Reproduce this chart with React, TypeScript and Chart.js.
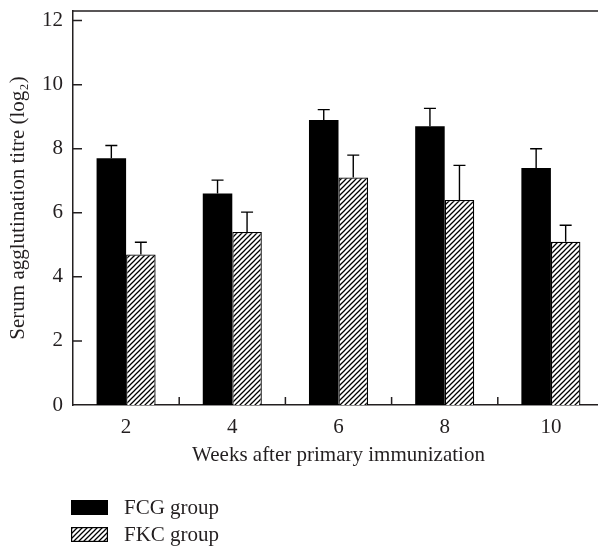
import React, { useEffect, useRef } from "react";
import { Chart, registerables } from "chart.js";

Chart.register(...registerables);

const weeks = ["2", "4", "6", "8", "10"];
const fcgValues = [7.7, 6.6, 8.9, 8.7, 7.4];
const fcgErrors = [0.4, 0.42, 0.32, 0.56, 0.6];
const fkcValues = [4.7, 5.4, 7.1, 6.4, 5.1];
const fkcErrors = [0.38, 0.62, 0.7, 1.08, 0.51];
const seriesNames = ["FCG group", "FKC group"];
const yTickValues = [0, 2, 4, 6, 8, 10, 12];

const FONT = "'Liberation Serif', 'Times New Roman', serif";
const INK = "#231f20";
const FS = 21;

function makeHatch(): CanvasPattern | string {
  const c = document.createElement("canvas");
  const s = 5;
  c.width = s;
  c.height = s;
  const g = c.getContext("2d");
  if (!g) return "#fff";
  g.fillStyle = "#fff";
  g.fillRect(0, 0, s, s);
  g.strokeStyle = "#000";
  g.lineWidth = 1.25;
  g.beginPath();
  g.moveTo(-1, s + 1);
  g.lineTo(s + 1, -1);
  g.moveTo(-1, 1);
  g.lineTo(1, -1);
  g.moveTo(s - 1, s + 1);
  g.lineTo(s + 1, s - 1);
  g.stroke();
  const p = g.createPattern(c, "repeat");
  return p || "#fff";
}

const errorBarsPlugin = {
  id: "errorBars",
  afterDatasetsDraw(chart: any) {
    const ctx = chart.ctx;
    const y = chart.scales.y;
    chart.data.datasets.forEach((ds: any, i: number) => {
      const meta = chart.getDatasetMeta(i);
      meta.data.forEach((bar: any, j: number) => {
        const v = ds.data[j];
        const e = ds.errors[j];
        const base = y.getPixelForValue(v);
        const top = y.getPixelForValue(v + e);
        ctx.save();
        ctx.strokeStyle = "#000";
        ctx.lineWidth = 1.4;
        ctx.beginPath();
        ctx.moveTo(bar.x, base);
        ctx.lineTo(bar.x, top);
        ctx.moveTo(bar.x - 6, top);
        ctx.lineTo(bar.x + 6, top);
        ctx.stroke();
        ctx.restore();
      });
    });
  },
};

const framePlugin = {
  id: "frameAndLegend",
  afterDraw(chart: any) {
    const { ctx, chartArea: a, scales } = chart;
    const x = scales.x;
    const y = scales.y;
    ctx.save();
    ctx.strokeStyle = INK;
    ctx.lineWidth = 1.5;
    ctx.beginPath();
    ctx.moveTo(a.left - 0.75, a.top);
    ctx.lineTo(a.right, a.top);
    y.ticks.forEach((t: any) => {
      if (t.value === 0) return;
      const py = y.getPixelForValue(t.value);
      ctx.moveTo(a.left, py);
      ctx.lineTo(a.left + 9, py);
    });
    for (let i = 1; i < weeks.length; i++) {
      const px = (x.getPixelForValue(i - 1) + x.getPixelForValue(i)) / 2;
      ctx.moveTo(px, a.bottom);
      ctx.lineTo(px, a.bottom - 8);
    }
    ctx.stroke();

    // legend
    const boxX = a.left - 2;
    const boxW = 37;
    const boxH = 15;
    const rows = [a.bottom + 95, a.bottom + 122];
    chart.data.datasets.forEach((ds: any, i: number) => {
      const ty = rows[i];
      ctx.fillStyle = ds.backgroundColor;
      ctx.fillRect(boxX, ty, boxW, boxH);
      if (ds.borderWidth) {
        ctx.strokeStyle = "#000";
        ctx.lineWidth = 1.2;
        ctx.strokeRect(boxX + 0.6, ty + 0.6, boxW - 1.2, boxH - 1.2);
      }
      ctx.fillStyle = INK;
      ctx.font = `${FS}px ${FONT}`;
      ctx.textAlign = "left";
      ctx.textBaseline = "middle";
      ctx.fillText(ds.label, boxX + 53, ty + 8);
    });
    ctx.restore();
  },
};

export default function App() {
  const ref = useRef<HTMLCanvasElement | null>(null);

  useEffect(() => {
    if (!ref.current) return;
    const hatch = makeHatch();
    const chart = new Chart(ref.current, {
      type: "bar",
      data: {
        labels: weeks,
        datasets: [
          {
            label: seriesNames[0],
            data: fcgValues,
            errors: fcgErrors,
            backgroundColor: "#000",
            borderWidth: 0,
            categoryPercentage: 0.556,
            barPercentage: 1,
          } as any,
          {
            label: seriesNames[1],
            data: fkcValues,
            errors: fkcErrors,
            backgroundColor: hatch,
            borderColor: "#000",
            borderWidth: 1.3,
            categoryPercentage: 0.556,
            barPercentage: 1,
          } as any,
        ],
      },
      options: {
        animation: false,
        responsive: false,
        maintainAspectRatio: false,
        layout: { padding: { top: 11, left: 0, right: 0, bottom: 0 } },
        plugins: {
          legend: { display: false },
          tooltip: { enabled: false },
        },
        scales: {
          x: {
            type: "category",
            afterFit(s: any) {
              s.height = 142;
              s.paddingLeft = 0;
              s.paddingRight = 0;
            },
            grid: { display: false, drawTicks: false },
            border: { display: true, color: INK, width: 1.5 },
            ticks: {
              color: INK,
              padding: 10,
              font: { family: FONT, size: FS },
            },
            title: {
              display: true,
              text: "Weeks after primary immunization",
              color: INK,
              font: { family: FONT, size: FS },
              padding: { top: 0, bottom: 79 },
            },
          },
          y: {
            min: 0,
            max: 12.3,
            afterFit(s: any) {
              s.width = 73;
              s.paddingTop = 0;
              s.paddingBottom = 0;
            },
            afterBuildTicks(s: any) {
              s.ticks = yTickValues.map((v) => ({ value: v }));
            },
            grid: { display: false, drawTicks: false },
            border: { display: true, color: INK, width: 1.5 },
            ticks: {
              stepSize: 2,
              color: INK,
              padding: 10,
              font: { family: FONT, size: FS },
            },
            title: {
              display: true,
              text: "Serum agglutination titre (log₂)",
              color: INK,
              font: { family: FONT, size: FS },
              padding: { top: 6, bottom: 0 },
            },
          },
        },
      },
      plugins: [errorBarsPlugin, framePlugin],
    } as any);
    return () => chart.destroy();
  }, []);

  return (
    <div
      style={{
        position: "fixed",
        left: 0,
        top: 0,
        width: 598,
        height: 547,
        overflow: "hidden",
        background: "#fff",
      }}
    >
      <canvas
        ref={ref}
        width={604}
        height={547}
        style={{ display: "block", width: 604, height: 547 }}
      />
    </div>
  );
}
